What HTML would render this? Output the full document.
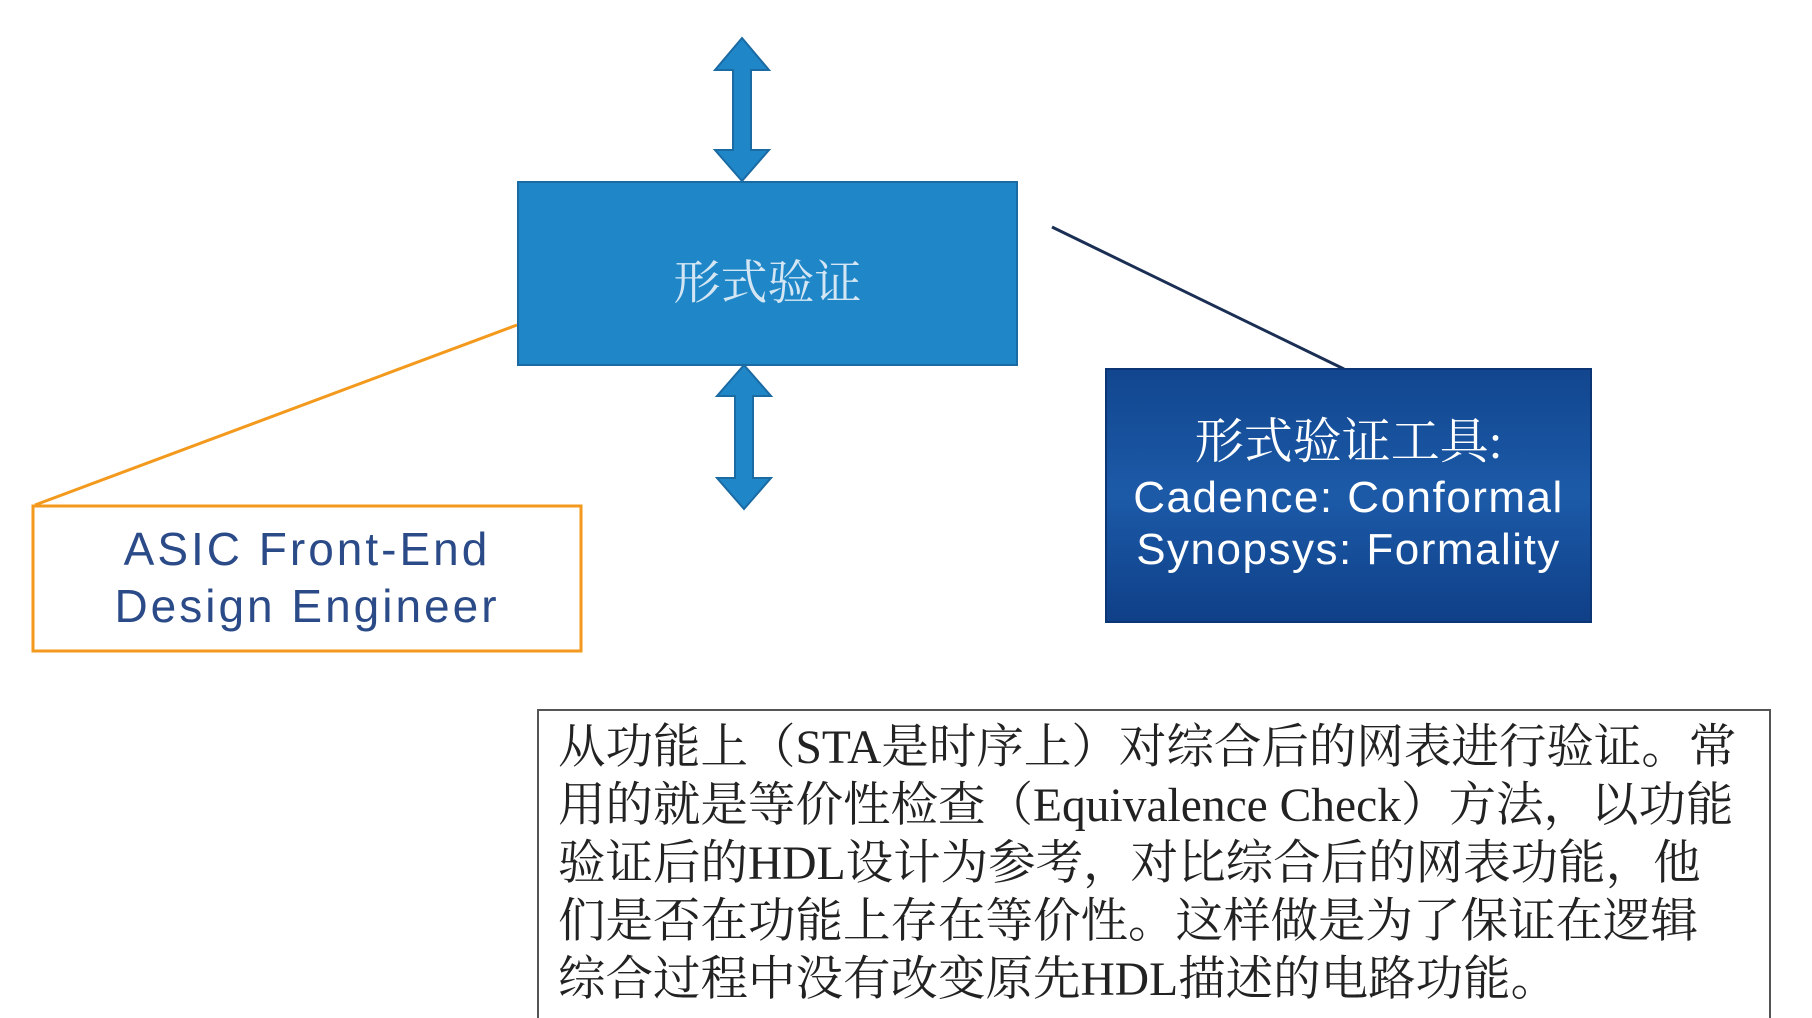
<!DOCTYPE html>
<html><head><meta charset="utf-8"><style>
body{margin:0;width:1812px;height:1018px;background:#fff;overflow:hidden;position:relative}
.t{position:absolute;white-space:nowrap}
</style></head><body>
<svg width="1812" height="1018" style="position:absolute;left:0;top:0">
<defs><linearGradient id="g" x1="0" y1="0" x2="0" y2="1"><stop offset="0" stop-color="#12468f"/><stop offset="0.5" stop-color="#1c5aa8"/><stop offset="1" stop-color="#0f3f87"/></linearGradient></defs>
<line x1="517" y1="325" x2="35" y2="505" stroke="#f39a1e" stroke-width="3"/>
<line x1="1052" y1="227" x2="1344" y2="369" stroke="#1b2f55" stroke-width="3"/>
<rect x="518" y="182" width="499" height="183" fill="#1f87c8" stroke="#1a6aa3" stroke-width="2"/>
<polygon points="742,38 769,70 751,70 751,150 769,150 742,181 715,150 733,150 733,70 715,70" fill="#1f87c8" stroke="#1a6aa3" stroke-width="2"/>
<polygon points="744,365 771,396 753,396 753,478 771,478 744,509 717,478 735,478 735,396 717,396" fill="#1f87c8" stroke="#1a6aa3" stroke-width="2"/>
<rect x="1106" y="369" width="485" height="253" fill="url(#g)" stroke="#0c3575" stroke-width="2"/>
<rect x="33" y="506" width="548" height="145" fill="#fff" stroke="#f39a1e" stroke-width="3"/>
<rect x="538" y="710" width="1232" height="320" fill="#fff" stroke="#555" stroke-width="2"/>
</svg>
<div class="t" style="left:518px;width:499px;top:246px;text-align:center;font:47px 'Liberation Serif','Noto Serif CJK SC',serif;color:#d4e6f4">形式验证</div>
<div class="t" style="left:1106px;width:485px;top:414px;text-align:center;font:49px/56px 'Liberation Serif','Noto Serif CJK SC',serif;color:#fff">形式验证工具:</div>
<div class="t" style="left:1106px;width:485px;top:472px;text-align:center;font:44px/52px 'Liberation Sans',sans-serif;color:#fff;letter-spacing:1.5px">Cadence: Conformal<br>Synopsys: Formality</div>
<div class="t" style="left:33px;width:548px;top:521px;text-align:center;font:46px/57px 'Liberation Sans',sans-serif;color:#2b4a88;letter-spacing:3px">ASIC Front-End<br>Design Engineer</div>
<div class="t" style="left:558px;top:719px;font:47.5px/58px 'Liberation Serif','Noto Serif CJK SC',serif;color:#222">从功能上（STA是时序上）对综合后的网表进行验证。常<br>用的就是等价性检查（Equivalence Check）方法，以功能<br>验证后的HDL设计为参考，对比综合后的网表功能，他<br>们是否在功能上存在等价性。这样做是为了保证在逻辑<br>综合过程中没有改变原先HDL描述的电路功能。</div>
</body></html>
